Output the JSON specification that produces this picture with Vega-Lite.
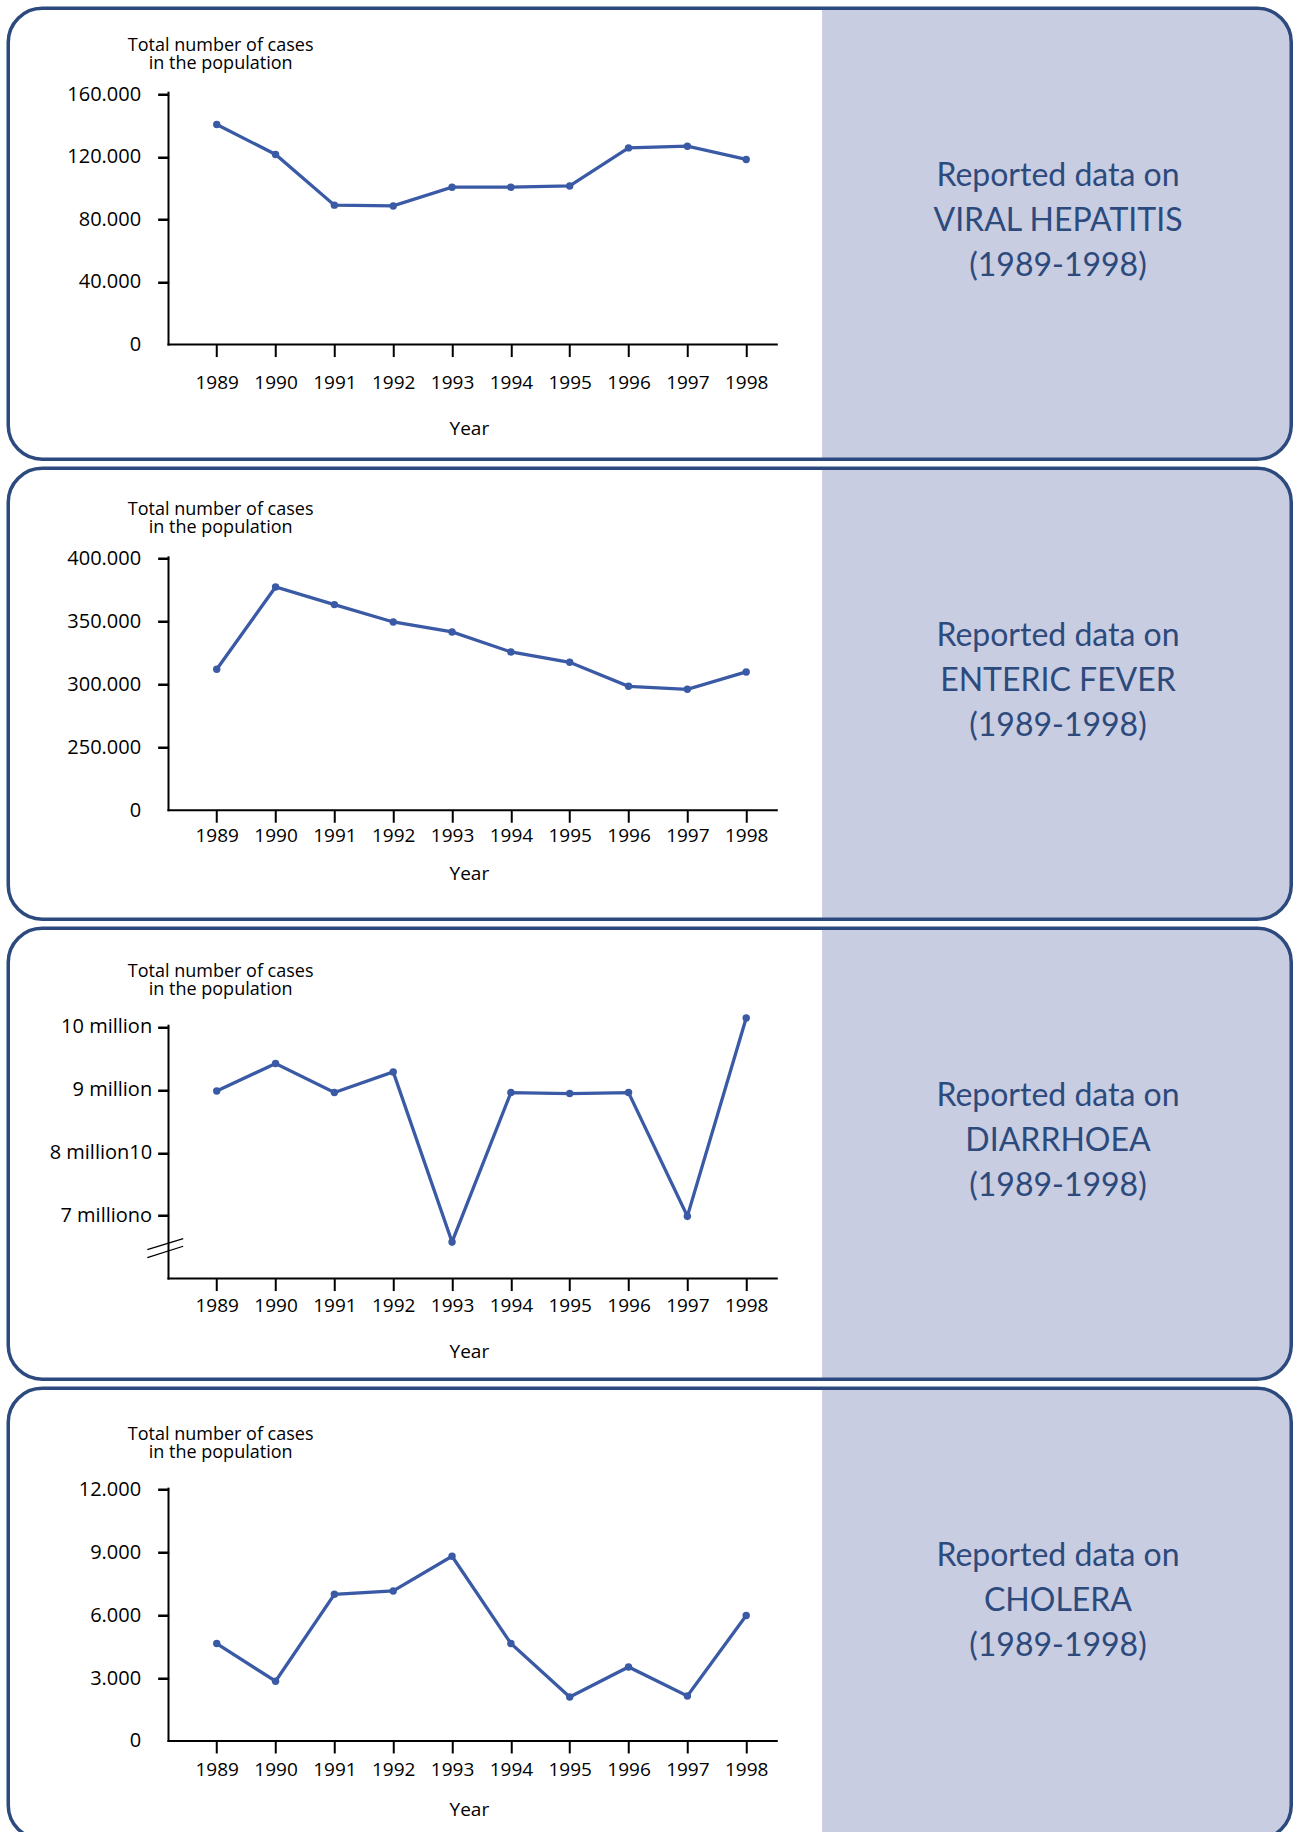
{
 "$schema": "https://vega.github.io/schema/vega-lite/v6.json",
 "background": "white",
 "padding": {"left": 6.25, "top": 6.25, "right": 0, "bottom": 0},
 "spacing": 9,
 "bounds": "flush",
 "config": {
  "view": {"stroke": null},
  "axis": {"labelFont": "Open Sans", "titleFont": "Open Sans", "labelColor": "black", "titleColor": "black", "tickColor": "black", "labelFontSize": 19, "titleFontSize": 19, "titleFontWeight": "normal", "grid": false, "domain": false, "labelFlush": false, "labelOverlap": false},
  "axisY": {"labelFontSize": 20}
 },
 "datasets": {
  "cases": [
   {"disease": "Viral hepatitis", "year": 1989, "cases": 140700},
   {"disease": "Viral hepatitis", "year": 1990, "cases": 121500},
   {"disease": "Viral hepatitis", "year": 1991, "cases": 89100},
   {"disease": "Viral hepatitis", "year": 1992, "cases": 88600},
   {"disease": "Viral hepatitis", "year": 1993, "cases": 100600},
   {"disease": "Viral hepatitis", "year": 1994, "cases": 100600},
   {"disease": "Viral hepatitis", "year": 1995, "cases": 101400},
   {"disease": "Viral hepatitis", "year": 1996, "cases": 125700},
   {"disease": "Viral hepatitis", "year": 1997, "cases": 126800},
   {"disease": "Viral hepatitis", "year": 1998, "cases": 118300},
   {"disease": "Enteric fever", "year": 1989, "cases": 312000},
   {"disease": "Enteric fever", "year": 1990, "cases": 377400},
   {"disease": "Enteric fever", "year": 1991, "cases": 363400},
   {"disease": "Enteric fever", "year": 1992, "cases": 349600},
   {"disease": "Enteric fever", "year": 1993, "cases": 341700},
   {"disease": "Enteric fever", "year": 1994, "cases": 325800},
   {"disease": "Enteric fever", "year": 1995, "cases": 317600},
   {"disease": "Enteric fever", "year": 1996, "cases": 298500},
   {"disease": "Enteric fever", "year": 1997, "cases": 296100},
   {"disease": "Enteric fever", "year": 1998, "cases": 309900},
   {"disease": "Diarrhoea", "year": 1989, "cases": 8983000},
   {"disease": "Diarrhoea", "year": 1990, "cases": 9418000},
   {"disease": "Diarrhoea", "year": 1991, "cases": 8957000},
   {"disease": "Diarrhoea", "year": 1992, "cases": 9285000},
   {"disease": "Diarrhoea", "year": 1993, "cases": 6582000},
   {"disease": "Diarrhoea", "year": 1994, "cases": 8957000},
   {"disease": "Diarrhoea", "year": 1995, "cases": 8941000},
   {"disease": "Diarrhoea", "year": 1996, "cases": 8957000},
   {"disease": "Diarrhoea", "year": 1997, "cases": 6990000},
   {"disease": "Diarrhoea", "year": 1998, "cases": 10143000},
   {"disease": "Cholera", "year": 1989, "cases": 4644},
   {"disease": "Cholera", "year": 1990, "cases": 2846},
   {"disease": "Cholera", "year": 1991, "cases": 6994},
   {"disease": "Cholera", "year": 1992, "cases": 7151},
   {"disease": "Cholera", "year": 1993, "cases": 8806},
   {"disease": "Cholera", "year": 1994, "cases": 4644},
   {"disease": "Cholera", "year": 1995, "cases": 2098},
   {"disease": "Cholera", "year": 1996, "cases": 3528},
   {"disease": "Cholera", "year": 1997, "cases": 2145},
   {"disease": "Cholera", "year": 1998, "cases": 5978}
  ]
 },
 "vconcat": [
  {
   "width": 1283, "height": 451,
   "layer": [
    {"data": {"values": [{}]}, "mark": {"type": "rect", "fill": "#c9cde1", "cornerRadiusTopRight": 33, "cornerRadiusBottomRight": 33},
     "encoding": {"x": {"datum": 1999.29, "type": "quantitative"}, "x2": {"datum": 2007.265}, "y": {"datum": 214971, "type": "quantitative"}, "y2": {"datum": -73316}}},
    {"data": {"values": [{}]}, "mark": {"type": "text", "text": ["Reported data on", "VIRAL HEPATITIS", "(1989-1998)"], "align": "center", "baseline": "alphabetic", "font": "Lato", "fontSize": 32, "lineHeight": 45, "color": "#2d4a7d"},
     "encoding": {"x": {"datum": 2003.3, "type": "quantitative"}, "y": {"datum": 101385, "type": "quantitative"}}},
    {"data": {"values": [{}]}, "mark": {"type": "rule", "color": "black", "strokeWidth": 2, "strokeCap": "square"},
     "encoding": {"x": {"datum": 1988.18, "type": "quantitative"}, "y": {"datum": 0, "type": "quantitative"}, "y2": {"datum": 161000}}},
    {"data": {"values": [{}]}, "mark": {"type": "rule", "color": "black", "strokeWidth": 2, "strokeCap": "square"},
     "encoding": {"x": {"datum": 1988.18, "type": "quantitative"}, "x2": {"datum": 1998.52}, "y": {"datum": 0, "type": "quantitative"}}},
    {"data": {"name": "cases"}, "transform": [{"filter": "datum.disease == 'Viral hepatitis'"}],
     "mark": {"type": "line", "color": "#3a5aa5", "strokeWidth": 3.3, "point": {"filled": true, "size": 55, "color": "#3a5aa5"}},
     "encoding": {
      "x": {"field": "year", "type": "quantitative", "scale": {"domain": [1985.456, 2007.265], "nice": false, "zero": false},
       "axis": {"values": [1989, 1990, 1991, 1992, 1993, 1994, 1995, 1996, 1997, 1998], "format": "d", "offset": -114.7, "tickSize": 12, "tickWidth": 2, "labelPadding": 25.7, "labelBaseline": "middle", "title": "Year", "titleX": 460.6, "titleY": 84, "titleBaseline": "middle", "titleAlign": "center"}},
      "y": {"field": "cases", "type": "quantitative", "scale": {"domain": [-73316, 214971], "nice": false, "zero": false},
       "axis": {"values": [0, 40000, 80000, 120000, 160000], "labelExpr": "datum.value == 0 ? '0' : format(datum.value / 1000, 'd') + '.000'", "offset": -160.4, "tickSize": 11, "tickWidth": 2.5, "tickOpacity": {"condition": {"test": "datum.value == 0", "value": 0}, "value": 1}, "labelPadding": 17, "title": ["Total number of cases", "in the population"], "titleAngle": 0, "titleX": 51.5, "titleY": 42, "titleAlign": "center", "titleBaseline": "alphabetic", "titleLineHeight": 18, "titleFontSize": 18}}
     }},
    {"data": {"values": [{}]}, "mark": {"type": "rect", "filled": false, "stroke": "#2c4a7e", "strokeWidth": 3.5, "cornerRadius": 34},
     "encoding": {"x": {"datum": 1985.456, "type": "quantitative"}, "x2": {"datum": 2007.265}, "y": {"datum": 214971, "type": "quantitative"}, "y2": {"datum": -73316}}}
   ]
  },
  {
   "width": 1283, "height": 451,
   "layer": [
    {"data": {"values": [{}]}, "mark": {"type": "rect", "fill": "#c9cde1", "cornerRadiusTopRight": 33, "cornerRadiusBottomRight": 33},
     "encoding": {"x": {"datum": 1999.29, "type": "quantitative"}, "x2": {"datum": 2007.265}, "y": {"datum": 471752, "type": "quantitative"}, "y2": {"datum": 113389}}},
    {"data": {"values": [{}]}, "mark": {"type": "text", "text": ["Reported data on", "ENTERIC FEVER", "(1989-1998)"], "align": "center", "baseline": "alphabetic", "font": "Lato", "fontSize": 32, "lineHeight": 45, "color": "#2d4a7d"},
     "encoding": {"x": {"datum": 2003.3, "type": "quantitative"}, "y": {"datum": 330552, "type": "quantitative"}}},
    {"data": {"values": [{}]}, "mark": {"type": "rule", "color": "black", "strokeWidth": 2, "strokeCap": "square"},
     "encoding": {"x": {"datum": 1988.18, "type": "quantitative"}, "y": {"datum": 200000, "type": "quantitative"}, "y2": {"datum": 401000}}},
    {"data": {"values": [{}]}, "mark": {"type": "rule", "color": "black", "strokeWidth": 2, "strokeCap": "square"},
     "encoding": {"x": {"datum": 1988.18, "type": "quantitative"}, "x2": {"datum": 1998.52}, "y": {"datum": 200000, "type": "quantitative"}}},
    {"data": {"name": "cases"}, "transform": [{"filter": "datum.disease == 'Enteric fever'"}],
     "mark": {"type": "line", "color": "#3a5aa5", "strokeWidth": 3.3, "point": {"filled": true, "size": 55, "color": "#3a5aa5"}},
     "encoding": {
      "x": {"field": "year", "type": "quantitative", "scale": {"domain": [1985.456, 2007.265], "nice": false, "zero": false},
       "axis": {"values": [1989, 1990, 1991, 1992, 1993, 1994, 1995, 1996, 1997, 1998], "format": "d", "offset": -109, "tickSize": 12, "tickWidth": 2, "labelPadding": 13.5, "labelBaseline": "middle", "title": "Year", "titleX": 460.6, "titleY": 63.3, "titleBaseline": "middle", "titleAlign": "center"}},
      "y": {"field": "cases", "type": "quantitative", "scale": {"domain": [113389, 471752], "nice": false, "zero": false},
       "axis": {"values": [200000, 250000, 300000, 350000, 400000], "labelExpr": "datum.value == 200000 ? '0' : format(datum.value / 1000, 'd') + '.000'", "offset": -160.4, "tickSize": 11, "tickWidth": 2.5, "tickOpacity": {"condition": {"test": "datum.value == 200000", "value": 0}, "value": 1}, "labelPadding": 17, "title": ["Total number of cases", "in the population"], "titleAngle": 0, "titleX": 51.5, "titleY": 46.7, "titleAlign": "center", "titleBaseline": "alphabetic", "titleLineHeight": 18, "titleFontSize": 18}}
     }},
    {"data": {"values": [{}]}, "mark": {"type": "rect", "filled": false, "stroke": "#2c4a7e", "strokeWidth": 3.5, "cornerRadius": 34},
     "encoding": {"x": {"datum": 1985.456, "type": "quantitative"}, "x2": {"datum": 2007.265}, "y": {"datum": 471752, "type": "quantitative"}, "y2": {"datum": 113389}}}
   ]
  },
  {
   "width": 1283, "height": 451,
   "layer": [
    {"data": {"values": [{}]}, "mark": {"type": "rect", "fill": "#c9cde1", "cornerRadiusTopRight": 33, "cornerRadiusBottomRight": 33},
     "encoding": {"x": {"datum": 1999.29, "type": "quantitative"}, "x2": {"datum": 2007.265}, "y": {"datum": 11569133, "type": "quantitative"}, "y2": {"datum": 4399071}}},
    {"data": {"values": [{}]}, "mark": {"type": "text", "text": ["Reported data on", "DIARRHOEA", "(1989-1998)"], "align": "center", "baseline": "alphabetic", "font": "Lato", "fontSize": 32, "lineHeight": 45, "color": "#2d4a7d"},
     "encoding": {"x": {"datum": 2003.3, "type": "quantitative"}, "y": {"datum": 8744058, "type": "quantitative"}}},
    {"data": {"values": [{}]}, "mark": {"type": "rule", "color": "black", "strokeWidth": 2, "strokeCap": "square"},
     "encoding": {"x": {"datum": 1988.18, "type": "quantitative"}, "y": {"datum": 6000000, "type": "quantitative"}, "y2": {"datum": 10020000}}},
    {"data": {"values": [{}]}, "mark": {"type": "rule", "color": "black", "strokeWidth": 2, "strokeCap": "square"},
     "encoding": {"x": {"datum": 1988.18, "type": "quantitative"}, "x2": {"datum": 1998.52}, "y": {"datum": 6000000, "type": "quantitative"}}},
    {"data": {"values": [{}]}, "mark": {"type": "rule", "color": "black", "strokeWidth": 1.3},
     "encoding": {"x": {"datum": 1987.82, "type": "quantitative"}, "x2": {"datum": 1988.43}, "y": {"datum": 6461042, "type": "quantitative"}, "y2": {"datum": 6635920}}},
    {"data": {"values": [{}]}, "mark": {"type": "rule", "color": "black", "strokeWidth": 1.3},
     "encoding": {"x": {"datum": 1987.82, "type": "quantitative"}, "x2": {"datum": 1988.43}, "y": {"datum": 6333858, "type": "quantitative"}, "y2": {"datum": 6513505}}},
    {"data": {"name": "cases"}, "transform": [{"filter": "datum.disease == 'Diarrhoea'"}],
     "mark": {"type": "line", "color": "#3a5aa5", "strokeWidth": 3.3, "point": {"filled": true, "size": 55, "color": "#3a5aa5"}},
     "encoding": {
      "x": {"field": "year", "type": "quantitative", "scale": {"domain": [1985.456, 2007.265], "nice": false, "zero": false},
       "axis": {"values": [1989, 1990, 1991, 1992, 1993, 1994, 1995, 1996, 1997, 1998], "format": "d", "offset": -100.7, "tickSize": 12, "tickWidth": 2, "labelPadding": 15.4, "labelBaseline": "middle", "title": "Year", "titleX": 460.6, "titleY": 73.4, "titleBaseline": "middle", "titleAlign": "center"}},
      "y": {"field": "cases", "type": "quantitative", "scale": {"domain": [4399071, 11569133], "nice": false, "zero": false},
       "axis": {"values": [7000000, 8000000, 9000000, 10000000], "labelExpr": "datum.value == 10000000 ? '10 million' : datum.value == 9000000 ? '9 million' : datum.value == 8000000 ? '8 million10' : '7 milliono'", "offset": -160.4, "tickSize": 11, "tickWidth": 2.5, "labelPadding": 6, "title": ["Total number of cases", "in the population"], "titleAngle": 0, "titleX": 51.5, "titleY": 48.3, "titleAlign": "center", "titleBaseline": "alphabetic", "titleLineHeight": 18, "titleFontSize": 18}}
     }},
    {"data": {"values": [{}]}, "mark": {"type": "rect", "filled": false, "stroke": "#2c4a7e", "strokeWidth": 3.5, "cornerRadius": 34},
     "encoding": {"x": {"datum": 1985.456, "type": "quantitative"}, "x2": {"datum": 2007.265}, "y": {"datum": 11569133, "type": "quantitative"}, "y2": {"datum": 4399071}}}
   ]
  },
  {
   "width": 1283, "height": 451,
   "layer": [
    {"data": {"values": [{}]}, "mark": {"type": "rect", "fill": "#c9cde1", "cornerRadiusTopRight": 33, "cornerRadiusBottomRight": 33},
     "encoding": {"x": {"datum": 1999.29, "type": "quantitative"}, "x2": {"datum": 2007.265}, "y": {"datum": 16815, "type": "quantitative"}, "y2": {"datum": -4687}}},
    {"data": {"values": [{}]}, "mark": {"type": "text", "text": ["Reported data on", "CHOLERA", "(1989-1998)"], "align": "center", "baseline": "alphabetic", "font": "Lato", "fontSize": 32, "lineHeight": 45, "color": "#2d4a7d"},
     "encoding": {"x": {"datum": 2003.3, "type": "quantitative"}, "y": {"datum": 8343, "type": "quantitative"}}},
    {"data": {"values": [{}]}, "mark": {"type": "rule", "color": "black", "strokeWidth": 2, "strokeCap": "square"},
     "encoding": {"x": {"datum": 1988.18, "type": "quantitative"}, "y": {"datum": 0, "type": "quantitative"}, "y2": {"datum": 12030}}},
    {"data": {"values": [{}]}, "mark": {"type": "rule", "color": "black", "strokeWidth": 2, "strokeCap": "square"},
     "encoding": {"x": {"datum": 1988.18, "type": "quantitative"}, "x2": {"datum": 1998.52}, "y": {"datum": 0, "type": "quantitative"}}},
    {"data": {"name": "cases"}, "transform": [{"filter": "datum.disease == 'Cholera'"}],
     "mark": {"type": "line", "color": "#3a5aa5", "strokeWidth": 3.3, "point": {"filled": true, "size": 55, "color": "#3a5aa5"}},
     "encoding": {
      "x": {"field": "year", "type": "quantitative", "scale": {"domain": [1985.456, 2007.265], "nice": false, "zero": false},
       "axis": {"values": [1989, 1990, 1991, 1992, 1993, 1994, 1995, 1996, 1997, 1998], "format": "d", "offset": -98.3, "tickSize": 12, "tickWidth": 2, "labelPadding": 16.3, "labelBaseline": "middle", "title": "Year", "titleX": 460.6, "titleY": 68.3, "titleBaseline": "middle", "titleAlign": "center"}},
      "y": {"field": "cases", "type": "quantitative", "scale": {"domain": [-4687, 16815], "nice": false, "zero": false},
       "axis": {"values": [0, 3000, 6000, 9000, 12000], "labelExpr": "datum.value == 0 ? '0' : format(datum.value / 1000, 'd') + '.000'", "offset": -160.4, "tickSize": 11, "tickWidth": 2.5, "tickOpacity": {"condition": {"test": "datum.value == 0", "value": 0}, "value": 1}, "labelPadding": 17, "title": ["Total number of cases", "in the population"], "titleAngle": 0, "titleX": 51.5, "titleY": 51.7, "titleAlign": "center", "titleBaseline": "alphabetic", "titleLineHeight": 18, "titleFontSize": 18}}
     }},
    {"data": {"values": [{}]}, "mark": {"type": "rect", "filled": false, "stroke": "#2c4a7e", "strokeWidth": 3.5, "cornerRadius": 34},
     "encoding": {"x": {"datum": 1985.456, "type": "quantitative"}, "x2": {"datum": 2007.265}, "y": {"datum": 16815, "type": "quantitative"}, "y2": {"datum": -4687}}}
   ]
  }
 ]
}
